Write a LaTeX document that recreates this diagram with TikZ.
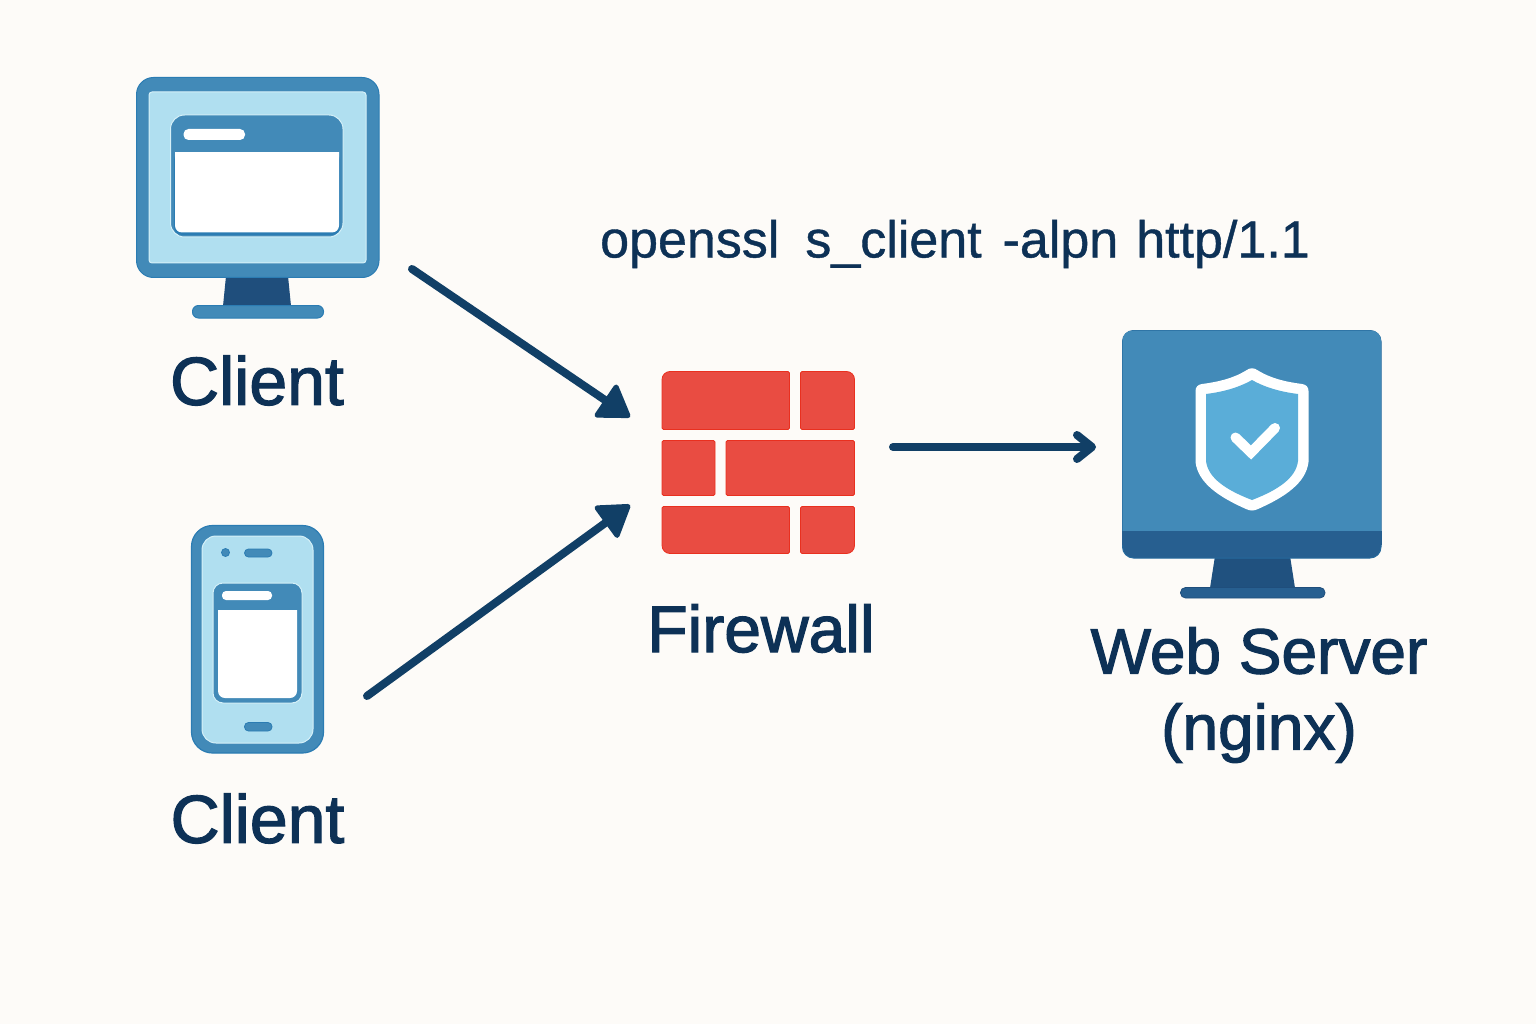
\documentclass[tikz,border=0pt]{standalone}
\usepackage{fontspec}
\usetikzlibrary{arrows.meta}
\setmainfont{Liberation Sans}
\newfontfamily\labfont[FakeBold=1.8]{Liberation Sans}
\newfontfamily\cmdfont[FakeBold=0.8]{Liberation Sans}
\definecolor{bgc}{HTML}{FDFBF8}
\definecolor{midb}{HTML}{428AB8}
\definecolor{edgeb}{HTML}{2B7CB3}
\definecolor{lightb}{HTML}{B0DFF0}
\definecolor{haloc}{HTML}{D5F0F8}
\definecolor{standb}{HTML}{1F4E7C}
\definecolor{barb}{HTML}{275F90}
\definecolor{navy}{HTML}{113F66}
\definecolor{txtc}{HTML}{0D3156}
\definecolor{brick}{HTML}{E94C42}
\definecolor{brickedge}{HTML}{E9301F}
\definecolor{shieldb}{HTML}{5AADD8}
\tikzset{
  midshape/.style={fill=midb,draw=edgeb,line width=1pt},
  screenshape/.style={fill=lightb,draw=haloc,line width=1pt},
  whiteshape/.style={fill=white},
  brickshape/.style={fill=brick,draw=brickedge,line width=0.8pt,rounded corners=1.5pt},
  biglabel/.style={font=\labfont\fontsize{68}{72}\selectfont,text=txtc,inner sep=0pt,align=center},
  cmdlabel/.style={font=\cmdfont\fontsize{52}{56}\selectfont,text=txtc,inner sep=0pt},
  flow/.style={draw=navy,line width=8pt,line cap=round},
  headtip/.style={-{Triangle[length=33pt,width=42pt,round,line width=5pt]}},
}
\begin{document}
\begin{tikzpicture}[x=1pt,y=-1pt]
\useasboundingbox (0,0) rectangle (1536,1024);
\fill[bgc] (0,0) rectangle (1536,1024);

% desktop client
\fill[standb] (226,276) -- (288,276) -- (291,306) -- (223,306) -- cycle;
\draw[midshape,rounded corners=6pt] (192.5,305.5) rectangle (323.5,318);
\draw[midshape,rounded corners=17pt] (136.5,77.5) rectangle (379,277.5);
\draw[screenshape,rounded corners=3pt] (149,92) rectangle (366,263);
\draw[midshape,draw=haloc,rounded corners=14pt] (170.5,115) rectangle (343,237);
\fill[edgeb,rounded corners=8pt] (174,152) -- (174,235) -- (340,235) -- (340,152) -- cycle;
\fill[whiteshape,rounded corners=7pt] (175,145) -- (175,232.5) -- (339,232.5) -- (339,145) -- cycle;
\fill[midb] (172,140) rectangle (342,152);
\fill[whiteshape,rounded corners=5pt] (183.5,129) rectangle (245,140);

% phone client
\draw[midshape,line width=1.2pt,rounded corners=21pt] (191.5,525.5) rectangle (323.5,753);
\draw[screenshape,rounded corners=14pt] (202,536) rectangle (313,743);
\draw[midshape,line width=0.8pt] (225.5,552.5) circle (4);
\draw[midshape,line width=0.8pt,rounded corners=4pt] (244.5,549) rectangle (272,557);
\draw[midshape,line width=0.8pt,rounded corners=4pt] (244.5,722.5) rectangle (272,731);
\draw[midshape,draw=haloc,rounded corners=10pt] (213,583) rectangle (302,703);
\fill[whiteshape,rounded corners=7pt] (218,600) -- (218,698) -- (297,698) -- (297,600) -- cycle;
\fill[midb] (215,598) rectangle (300,609.5);
\fill[whiteshape,rounded corners=4pt] (222,591) rectangle (272,600);

% firewall
\draw[brickshape] (700,371.5) [rounded corners=8pt] -- (662,371.5) [rounded corners=1.5pt] -- (662,429.5) -- (789.5,429.5) -- (789.5,371.5) -- cycle;
\draw[brickshape] (800.5,371.5) [rounded corners=8pt] -- (854.5,371.5) [rounded corners=1.5pt] -- (854.5,429.5) -- (800.5,429.5) -- cycle;
\draw[brickshape] (662,440.5) rectangle (715,495.5);
\draw[brickshape] (726,440.5) rectangle (854.5,495.5);
\draw[brickshape] (700,506.5) -- (662,506.5) [rounded corners=8pt] -- (662,553.5) [rounded corners=1.5pt] -- (789.5,553.5) -- (789.5,506.5) -- cycle;
\draw[brickshape] (800.5,506.5) -- (854.5,506.5) [rounded corners=8pt] -- (854.5,553.5) [rounded corners=1.5pt] -- (800.5,553.5) -- cycle;

% web server
\fill[standb!85!barb] (1215,556) -- (1290,556) -- (1295,588) -- (1210,588) -- cycle;
\draw[fill=barb,draw=standb,line width=0.8pt,rounded corners=5pt] (1180.5,587.5) rectangle (1325,598);
\draw[fill=barb,draw=edgeb!60!standb,line width=1pt,rounded corners=11pt] (1122.5,330.5) rectangle (1381,558);
\fill[midb,rounded corners=10pt] (1122.5,540) -- (1122.5,330.5) -- (1381,330.5) -- (1381,540) -- cycle;
\fill[barb] (1122,531) -- (1381.5,531) -- (1381.5,545) -- (1122,545) -- cycle;
\fill[white]
  (1246,370.5) .. controls (1250,367.5) and (1254,367.5) .. (1258,370.5)
  .. controls (1272,379) and (1287,382) .. (1302,384)
  .. controls (1306,384.5) and (1308.5,387) .. (1308.5,391) -- (1308.5,462)
  .. controls (1306,483) and (1285,497) .. (1258,509)
  .. controls (1254,511) and (1250,511) .. (1246,509)
  .. controls (1219,497) and (1198,483) .. (1195.5,462) -- (1195.5,391)
  .. controls (1195.5,387) and (1198,384.5) .. (1202,384)
  .. controls (1217,382) and (1232,379) .. (1246,370.5) -- cycle;
\fill[shieldb]
  (1252,380) .. controls (1266,388) and (1282,392) .. (1298,394) -- (1298,461)
  .. controls (1296,478) and (1278,490) .. (1252,500)
  .. controls (1226,490) and (1208,478) .. (1206,461) -- (1206,394)
  .. controls (1222,392) and (1238,388) .. (1252,380) -- cycle;
\draw[white,line width=10pt,line cap=round,line join=miter] (1235.5,437.5) -- (1251,452.5) -- (1275,428);

% labels
\node[biglabel] (clientdesktoplabel) at (257,380.5) {Client};
\node[biglabel] (clientphonelabel) at (257.5,818.5) {Client};
\node[biglabel,font=\labfont\fontsize{66}{72}\selectfont] (firewalllabel) at (761,628.5) {Firewall};
\node[biglabel,font=\labfont\fontsize{64}{76}\selectfont] (serverlabel) at (1259,695) {Web Server\\(nginx)};
\node[cmdlabel] (cmdlabel) at (955,244) {openssl\hspace{26pt}s\_client\hspace{21pt}-alpn\hspace{18pt}http/1.1};

% connectors
\coordinate (desktopout) at (412,269);
\coordinate (fwinupper) at (630,417);
\coordinate (phoneout) at (367,696);
\coordinate (fwinlower) at (630,505);
\coordinate (fwout) at (893,447);
\coordinate (serverin) at (1096,447);
\draw[flow,headtip] (desktopout) -- (fwinupper);
\draw[flow,headtip] (phoneout) -- (fwinlower);
\draw[flow,-{Straight Barb[length=15pt,width=24pt,round]}] (fwout) -- (serverin);
\end{tikzpicture}
\end{document}
